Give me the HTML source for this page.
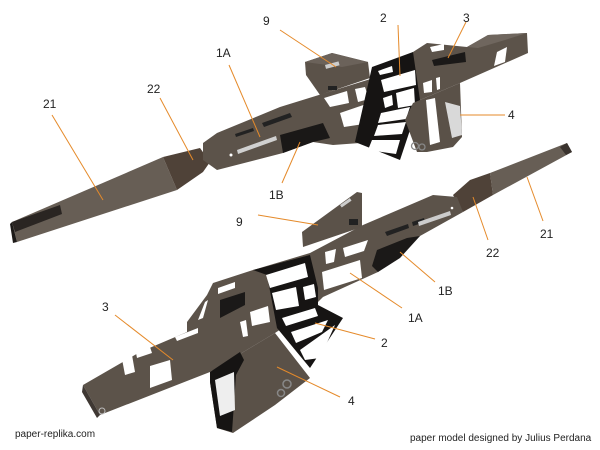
<!DOCTYPE html>
<html><head><style>
html,body{margin:0;padding:0;background:#fff;}
svg{display:block;}
text{font-family:"Liberation Sans",Arial,sans-serif;fill:#222;}
</style></head><body>
<svg width="600" height="450" viewBox="0 0 600 450" xmlns="http://www.w3.org/2000/svg">
<!-- TOP GUN -->
<g>
  <polygon points="12,222 163,157 177,190 17,242" fill="#675e55"/>
  <polygon points="12,222 60,205 62,214 15,232" fill="#2a2522"/>
  <polygon points="12,222 17,242 13,243 10,224" fill="#1d1a18"/>
  <polygon points="163,157 200,148 210,162 203,172 177,190" fill="#4f4238"/>
  <polygon points="203,143 217,133 280,107 377,77 413,52 427,43 467,47 488,35 527,33 528,53 460,83 413,103 360,143 333,145 313,142 283,153 217,170 203,160" fill="#5c534a"/>
  <polygon points="488,35 527,33 505,40 478,48 467,47" fill="#6f665e"/>
  <polygon points="280,135 323,123 330,138 313,142 283,153" fill="#1a1817"/>
  <polygon points="262,123 290,113 292,117 264,127" fill="#222"/>
  <polygon points="235,134 253,128 254,131 236,137" fill="#222"/>
  <polygon points="237,150 276,136 277,140 238,154" fill="#d0d0d0"/>
  <circle cx="231" cy="155" r="1.5" fill="#fff"/>
  <polygon points="324,98 347,91 349,103 330,107" fill="#fff"/>
  <polygon points="355,89 365,87 369,99 358,102" fill="#fff"/>
  <polygon points="340,113 378,100 377,122 344,127" fill="#fff"/>
  <polygon points="305,62 332,53 368,62 370,78 320,95 306,75" fill="#5b5249"/>
  <polygon points="305,62 332,53 368,62 342,67" fill="#6b625a"/>
  <rect x="328" y="86" width="9" height="4" fill="#222"/>
  <rect x="325" y="65" width="14" height="4" fill="#ccc" transform="rotate(-15 325 65)"/>
  <polygon points="432,60 465,52 466,62 434,66" fill="#1b1918"/>
  <polygon points="497,52 507,47 505,62 494,66" fill="#fff"/>
  <polygon points="430,47 444,44 444,50 432,52" fill="#fff"/>
  <polygon points="423,83 432,80 432,92 424,93" fill="#fff"/>
  <polygon points="436,78 440,77 440,89 437,90" fill="#fff"/>
  <polygon points="372,67 413,52 420,100 400,160 355,142 360,120" fill="#161413"/>
  <polygon points="378,71 392,66 393,72 380,75" fill="#fff"/>
  <polygon points="381,80 415,70 416,85 384,92" fill="#fff"/>
  <polygon points="383,98 392,95 393,105 385,108" fill="#fff"/>
  <polygon points="396,93 414,88 415,105 398,108" fill="#fff"/>
  <polygon points="381,113 410,107 406,119 378,123" fill="#fff"/>
  <polygon points="378,125 406,122 402,134 374,136" fill="#fff"/>
  <polygon points="372,140 400,140 396,154 368,150" fill="#fff"/>
  <polygon points="413,103 460,83 462,137 453,147 427,152 417,152 405,120" fill="#5a5148"/>
  <polygon points="426,100 435,98 440,142 430,145" fill="#fff"/>
  <polygon points="445,102 460,106 462,135 452,138" fill="#d9d9d9"/>
  <circle cx="415" cy="146" r="3.5" fill="none" stroke="#888" stroke-width="1.3"/>
  <circle cx="422" cy="147" r="3" fill="none" stroke="#888" stroke-width="1.3"/>
</g>

<!-- BOTTOM GUN -->
<g>
  <polygon points="490,173 567,143 572,152 493,195" fill="#675e55"/>
  <polygon points="560,147 567,143 572,152 566,155" fill="#3a332e"/>
  <polygon points="453,195 470,180 490,173 493,195 463,212" fill="#4f4238"/>
  <polygon points="83,385 140,352 187,332 187,322 207,295 213,283 253,270 310,253 363,225 433,195 457,197 463,212 420,236 378,272 323,297 310,310 275,333 210,372 100,415" fill="#5c534a"/>
  <polygon points="83,385 100,415 97,418 82,392" fill="#3f3833"/>
  <!-- dark 1B -->
  <polygon points="377,250 407,238 420,236 400,258 378,272 372,266" fill="#1b1918"/>
  <polygon points="385,232 408,224 409,228 387,236" fill="#222"/>
  <polygon points="412,222 424,218 425,222 413,226" fill="#222"/>
  <polygon points="418,222 450,211 451,215 419,226" fill="#ccc"/>
  <circle cx="452" cy="208" r="1.3" fill="#fff"/>
  <polygon points="325,252 336,249 334,262 326,264" fill="#fff"/>
  <polygon points="343,248 368,240 364,251 345,257" fill="#fff"/>
  <polygon points="322,272 360,260 362,278 324,290" fill="#fff"/>
  <polygon points="250,312 268,306 270,322 252,326" fill="#fff"/>
  <polygon points="240,322 246,320 248,336 243,337" fill="#fff"/>
  <polygon points="198,320 205,302 208,300 203,318" fill="#fff"/>
  <polygon points="175,337 198,328 198,333 177,341" fill="#fff"/>
  <polygon points="122,359 132,355 135,372 125,375" fill="#fff"/>
  <polygon points="136,353 150,347 152,353 137,358" fill="#fff"/>
  <polygon points="150,366 170,360 172,380 150,388" fill="#fff"/>
  <polygon points="220,300 245,292 245,305 220,318" fill="#1b1918"/>
  <polygon points="218,288 235,282 235,288 218,294" fill="#fff"/>
  <circle cx="102" cy="411" r="3" fill="none" stroke="#bbb" stroke-width="1"/>
  <!-- sight 9 -->
  <polygon points="302,232 357,192 362,193 362,227 303,247" fill="#5b5249"/>
  <rect x="349" y="219" width="9" height="6" fill="#222"/>
  <rect x="340" y="205" width="12" height="3" fill="#ccc" transform="rotate(-35 340 205)"/>
  <!-- magazine 2 -->
  <polygon points="253,270 310,255 318,288 318,305 343,318 310,368 277,328 267,275" fill="#161413"/>
  <polygon points="266,275 305,263 308,277 270,288" fill="#fff"/>
  <polygon points="272,293 296,287 299,306 276,310" fill="#fff"/>
  <polygon points="303,287 314,284 316,297 305,300" fill="#fff"/>
  <polygon points="282,318 315,308 318,316 286,326" fill="#fff"/>
  <polygon points="291,332 328,320 322,332 296,343" fill="#fff"/>
  <polygon points="300,350 335,325 320,358 305,360" fill="#fff"/>
  <!-- grip 4 -->
  <polygon points="210,372 260,342 275,333 310,378 275,405 245,425 233,433 217,428 210,382" fill="#5a5148"/>
  <polygon points="210,372 240,352 244,360 236,375 232,432 217,428 210,382" fill="#161413"/>
  <polygon points="215,380 234,372 235,410 220,416" fill="#eee"/>
  <circle cx="287" cy="384" r="4" fill="none" stroke="#888" stroke-width="1.5"/>
  <circle cx="281" cy="393" r="3.5" fill="none" stroke="#888" stroke-width="1.5"/>
</g>

<g stroke="#e58a2a" stroke-width="1" fill="none">
  <line x1="280" y1="30" x2="336" y2="67"/>
  <line x1="398" y1="25" x2="400" y2="76"/>
  <line x1="466" y1="22" x2="448" y2="58"/>
  <line x1="229" y1="65" x2="260" y2="137"/>
  <line x1="160" y1="98" x2="193" y2="160"/>
  <line x1="52" y1="115" x2="103" y2="200"/>
  <line x1="460" y1="115" x2="505" y2="115"/>
  <line x1="282" y1="183" x2="300" y2="142"/>
  <line x1="258" y1="215" x2="318" y2="225"/>
  <line x1="488" y1="240" x2="473" y2="197"/>
  <line x1="543" y1="221" x2="527" y2="177"/>
  <line x1="435" y1="282" x2="400" y2="252"/>
  <line x1="402" y1="308" x2="350" y2="273"/>
  <line x1="375" y1="339" x2="315" y2="323"/>
  <line x1="115" y1="315" x2="173" y2="360"/>
  <line x1="340" y1="397" x2="277" y2="367"/>
</g>

<g font-size="12">
  <text x="263" y="25">9</text>
  <text x="380" y="22">2</text>
  <text x="463" y="22">3</text>
  <text x="216" y="57">1A</text>
  <text x="147" y="93">22</text>
  <text x="43" y="108">21</text>
  <text x="508" y="119">4</text>
  <text x="269" y="199">1B</text>
  <text x="236" y="226">9</text>
  <text x="486" y="257">22</text>
  <text x="540" y="238">21</text>
  <text x="438" y="295">1B</text>
  <text x="408" y="322">1A</text>
  <text x="381" y="347">2</text>
  <text x="102" y="311">3</text>
  <text x="348" y="405">4</text>
</g>
<text x="15" y="437" font-size="10">paper-replika.com</text>
<text x="410" y="441" font-size="10">paper model designed by Julius Perdana</text>
</svg>
</body></html>
